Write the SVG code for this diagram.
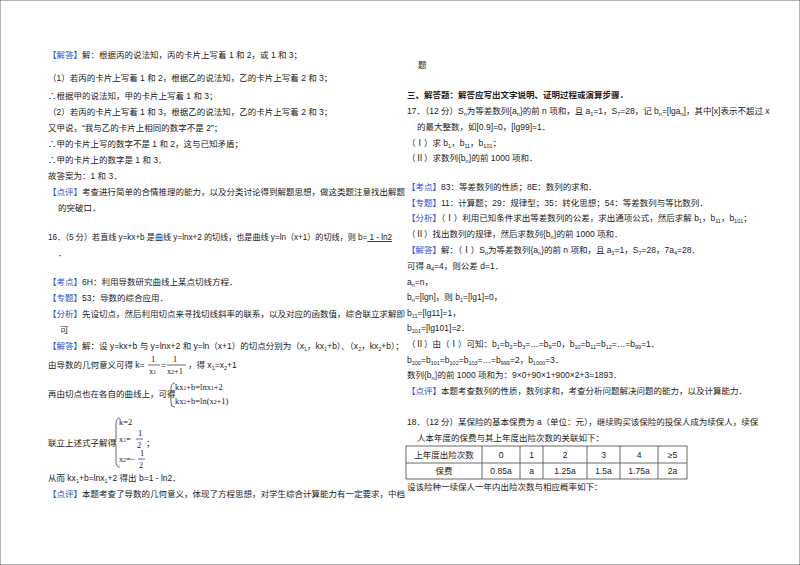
<svg xmlns="http://www.w3.org/2000/svg" width="800" height="565" viewBox="0 0 800 565">
<style>
text{font-family:"Liberation Sans","Noto Sans CJK SC",sans-serif;font-size:8.5px;fill:#222}
.b{fill:#2b4fd6}
.h{font-weight:bold}
.s{font-size:5.5px}
.m{font-family:"Liberation Serif","Noto Sans CJK SC",serif;font-size:8.5px}
line,rect,path{stroke:#444;stroke-width:0.8;fill:none}
</style>
<rect x="0" y="0" width="800" height="565" fill="#fff" stroke="none"/>
<g id="left">
<text x="48" y="58"><tspan class="b">【解答】</tspan>解：根据丙的说法知，丙的卡片上写着 1 和 2，或 1 和 3；</text>
<text x="48" y="81">（1）若丙的卡片上写着 1 和 2，根据乙的说法知，乙的卡片上写着 2 和 3；</text>
<text x="48" y="99">∴根据甲的说法知，甲的卡片上写着 1 和 3；</text>
<text x="48" y="115">（2）若丙的卡片上写着 1 和 3，根据乙的说法知，乙的卡片上写着 2 和 3；</text>
<text x="48" y="131">又甲说，“我与乙的卡片上相同的数字不是 2”；</text>
<text x="48" y="147">∴甲的卡片上写的数字不是 1 和 2，这与已知矛盾；</text>
<text x="48" y="163">∴甲的卡片上的数字是 1 和 3．</text>
<text x="48" y="179">故答案为：1 和 3．</text>
<text x="48" y="195"><tspan class="b">【点评】</tspan>考查进行简单的合情推理的能力，以及分类讨论得到解题思想，做这类题注意找出解题</text>
<text x="58" y="211">的突破口．</text>
<text x="48" y="240" textLength="344" lengthAdjust="spacingAndGlyphs">16．（5 分）若直线 y=kx+b 是曲线 y=lnx+2 的切线，也是曲线 y=ln（x+1）的切线，则 b=<tspan text-decoration="underline">  1 - ln2 </tspan></text>
<text x="58" y="256">．</text>
<text x="48" y="285"><tspan class="b">【考点】</tspan>6H：利用导数研究曲线上某点切线方程．</text>
<text x="48" y="301"><tspan class="b">【专题】</tspan>53：导数的综合应用．</text>
<text x="48" y="317"><tspan class="b">【分析】</tspan>先设切点，然后利用切点来寻找切线斜率的联系，以及对应的函数值，综合联立求解即</text>
<text x="60" y="333">可</text>
<text x="48" y="349"><tspan class="b">【解答】</tspan>解：设 y=kx+b 与 y=lnx+2 和 y=ln（x+1）的切点分别为（x<tspan class="s" dy="2">1</tspan><tspan dy="-2">，kx</tspan><tspan class="s" dy="2">1</tspan><tspan dy="-2">+b）、（x</tspan><tspan class="s" dy="2">2</tspan><tspan dy="-2">，kx</tspan><tspan class="s" dy="2">2</tspan><tspan dy="-2">+b）；</tspan></text>
<text x="48" y="368">由导数的几何意义可得 k=</text>
<text class="m" x="151" y="362">1</text><line x1="148" y1="365" x2="160" y2="365"/><text class="m" x="149" y="374">x<tspan class="s">1</tspan></text>
<text x="161" y="368">=</text>
<text class="m" x="173" y="362">1</text><line x1="167" y1="365" x2="186" y2="365"/><text class="m" x="167" y="374">x<tspan class="s">2</tspan>+1</text>
<text x="188" y="368">，得 x<tspan class="s" dy="2">1</tspan><tspan dy="-2">=x</tspan><tspan class="s" dy="2">2</tspan><tspan dy="-2">+1</tspan></text>
<text x="48" y="397">再由切点也在各自的曲线上，可得</text>
<path d="M175 383 Q171 383 171 388 L171 392 Q171 395 169 395 Q171 395 171 398 L171 403 Q171 407 175 407"/>
<text class="m" x="175" y="390">kx<tspan class="s">1</tspan>+b=lnx<tspan class="s">1</tspan>+2</text>
<text class="m" x="175" y="404">kx<tspan class="s">2</tspan>+b=ln(x<tspan class="s">2</tspan>+1)</text>
<text x="48" y="446">联立上述式子解得</text>
<path d="M120 418 Q116 418 116 424 L116 440 Q116 443 114 443 Q116 443 116 446 L116 462 Q116 467 120 467"/>
<text class="m" x="119" y="425">k=2</text>
<text class="m" x="119" y="442">x<tspan class="s">1</tspan>=</text><text class="m" x="138" y="436">1</text><line x1="136" y1="439" x2="143" y2="439"/><text class="m" x="137" y="448">2</text>
<text x="146" y="446">；</text>
<text class="m" x="119" y="462">x<tspan class="s">2</tspan>=−</text><text class="m" x="140" y="456">1</text><line x1="138" y1="459" x2="145" y2="459"/><text class="m" x="139" y="468">2</text>
<text x="48" y="481">从而 kx<tspan class="s" dy="2">1</tspan><tspan dy="-2">+b=lnx</tspan><tspan class="s" dy="2">1</tspan><tspan dy="-2">+2 得出 b=1 - ln2．</tspan></text>
<text x="48" y="497"><tspan class="b">【点评】</tspan>本题考查了导数的几何意义，体现了方程思想，对学生综合计算能力有一定要求，中档</text>
</g>
<g id="right">
<text x="418" y="68">题</text>
<text x="407" y="98" class="h">三、解答题：解答应写出文字说明、证明过程或演算步骤．</text>
<text x="407" y="114">17．（12 分）S<tspan class="s" dy="2">n</tspan><tspan dy="-2">为等差数列{a</tspan><tspan class="s" dy="2">n</tspan><tspan dy="-2">}的前 n 项和，且 a</tspan><tspan class="s" dy="2">1</tspan><tspan dy="-2">=1，S</tspan><tspan class="s" dy="2">7</tspan><tspan dy="-2">=28，记 b</tspan><tspan class="s" dy="2">n</tspan><tspan dy="-2">=[lga</tspan><tspan class="s" dy="2">n</tspan><tspan dy="-2">]，其中[x]表示不超过 x</tspan></text>
<text x="417" y="130">的最大整数，如[0.9]=0，[lg99]=1．</text>
<text x="407" y="146">（Ⅰ）求 b<tspan class="s" dy="2">1</tspan><tspan dy="-2">，b</tspan><tspan class="s" dy="2">11</tspan><tspan dy="-2">，b</tspan><tspan class="s" dy="2">101</tspan><tspan dy="-2">；</tspan></text>
<text x="407" y="161">（Ⅱ）求数列{b<tspan class="s" dy="2">n</tspan><tspan dy="-2">}的前 1000 项和．</tspan></text>
<text x="407" y="190"><tspan class="b">【考点】</tspan>83：等差数列的性质；8E：数列的求和．</text>
<text x="407" y="206"><tspan class="b">【专题】</tspan>11：计算题；29：规律型；35：转化思想；54：等差数列与等比数列．</text>
<text x="407" y="221"><tspan class="b">【分析】</tspan>（Ⅰ）利用已知条件求出等差数列的公差，求出通项公式，然后求解 b<tspan class="s" dy="2">1</tspan><tspan dy="-2">，b</tspan><tspan class="s" dy="2">11</tspan><tspan dy="-2">，b</tspan><tspan class="s" dy="2">101</tspan><tspan dy="-2">；</tspan></text>
<text x="407" y="237">（Ⅱ）找出数列的规律，然后求数列{b<tspan class="s" dy="2">n</tspan><tspan dy="-2">}的前 1000 项和．</tspan></text>
<text x="407" y="253"><tspan class="b">【解答】</tspan>解：（Ⅰ）S<tspan class="s" dy="2">n</tspan><tspan dy="-2">为等差数列{a</tspan><tspan class="s" dy="2">n</tspan><tspan dy="-2">}的前 n 项和，且 a</tspan><tspan class="s" dy="2">1</tspan><tspan dy="-2">=1，S</tspan><tspan class="s" dy="2">7</tspan><tspan dy="-2">=28，7a</tspan><tspan class="s" dy="2">4</tspan><tspan dy="-2">=28．</tspan></text>
<text x="407" y="269">可得 a<tspan class="s" dy="2">4</tspan><tspan dy="-2">=4，则公差 d=1．</tspan></text>
<text x="407" y="285">a<tspan class="s" dy="2">n</tspan><tspan dy="-2">=n，</tspan></text>
<text x="407" y="300">b<tspan class="s" dy="2">n</tspan><tspan dy="-2">=[lgn]，则 b</tspan><tspan class="s" dy="2">1</tspan><tspan dy="-2">=[lg1]=0，</tspan></text>
<text x="407" y="316">b<tspan class="s" dy="2">11</tspan><tspan dy="-2">=[lg11]=1，</tspan></text>
<text x="407" y="331">b<tspan class="s" dy="2">101</tspan><tspan dy="-2">=[lg101]=2．</tspan></text>
<text x="407" y="347">（Ⅱ）由（Ⅰ）可知：b<tspan class="s" dy="2">1</tspan><tspan dy="-2">=b</tspan><tspan class="s" dy="2">2</tspan><tspan dy="-2">=b</tspan><tspan class="s" dy="2">3</tspan><tspan dy="-2">=…=b</tspan><tspan class="s" dy="2">9</tspan><tspan dy="-2">=0，b</tspan><tspan class="s" dy="2">10</tspan><tspan dy="-2">=b</tspan><tspan class="s" dy="2">11</tspan><tspan dy="-2">=b</tspan><tspan class="s" dy="2">12</tspan><tspan dy="-2">=…=b</tspan><tspan class="s" dy="2">99</tspan><tspan dy="-2">=1．</tspan></text>
<text x="407" y="363">b<tspan class="s" dy="2">100</tspan><tspan dy="-2">=b</tspan><tspan class="s" dy="2">101</tspan><tspan dy="-2">=b</tspan><tspan class="s" dy="2">102</tspan><tspan dy="-2">=b</tspan><tspan class="s" dy="2">103</tspan><tspan dy="-2">=…=b</tspan><tspan class="s" dy="2">999</tspan><tspan dy="-2">=2，b</tspan><tspan class="s" dy="2">10</tspan><tspan class="s" dy="0">00</tspan><tspan dy="-2">=3．</tspan></text>
<text x="407" y="378">数列{b<tspan class="s" dy="2">n</tspan><tspan dy="-2">}的前 1000 项和为：9×0+90×1+900×2+3=1893．</tspan></text>
<text x="407" y="394"><tspan class="b">【点评】</tspan>本题考查数列的性质，数列求和，考查分析问题解决问题的能力，以及计算能力．</text>
<text x="407" y="425">18．（12 分）某保险的基本保费为 a（单位：元），继续购买该保险的投保人成为续保人，续保</text>
<text x="417" y="441">人本年度的保费与其上年度出险次数的关联如下：</text>
</g>
<g id="table">
<rect x="406" y="446" width="281" height="33"/>
<line x1="406" y1="463" x2="687" y2="463"/>
<line x1="482" y1="446" x2="482" y2="479"/>
<line x1="520" y1="446" x2="520" y2="479"/>
<line x1="543" y1="446" x2="543" y2="479"/>
<line x1="587" y1="446" x2="587" y2="479"/>
<line x1="620" y1="446" x2="620" y2="479"/>
<line x1="658" y1="446" x2="658" y2="479"/>
<g text-anchor="middle">
<text x="444" y="458">上年度出险次数</text><text x="501" y="458">0</text><text x="531.5" y="458">1</text><text x="565" y="458">2</text><text x="603.5" y="458">3</text><text x="639" y="458">4</text><text x="672.5" y="458">≥5</text>
<text x="444" y="474">保费</text><text x="501" y="474">0.85a</text><text x="531.5" y="474">a</text><text x="565" y="474">1.25a</text><text x="603.5" y="474">1.5a</text><text x="639" y="474">1.75a</text><text x="672.5" y="474">2a</text>
</g>
<text x="407" y="490">设该险种一续保人一年内出险次数与相应概率如下：</text>
</g>
</svg>
